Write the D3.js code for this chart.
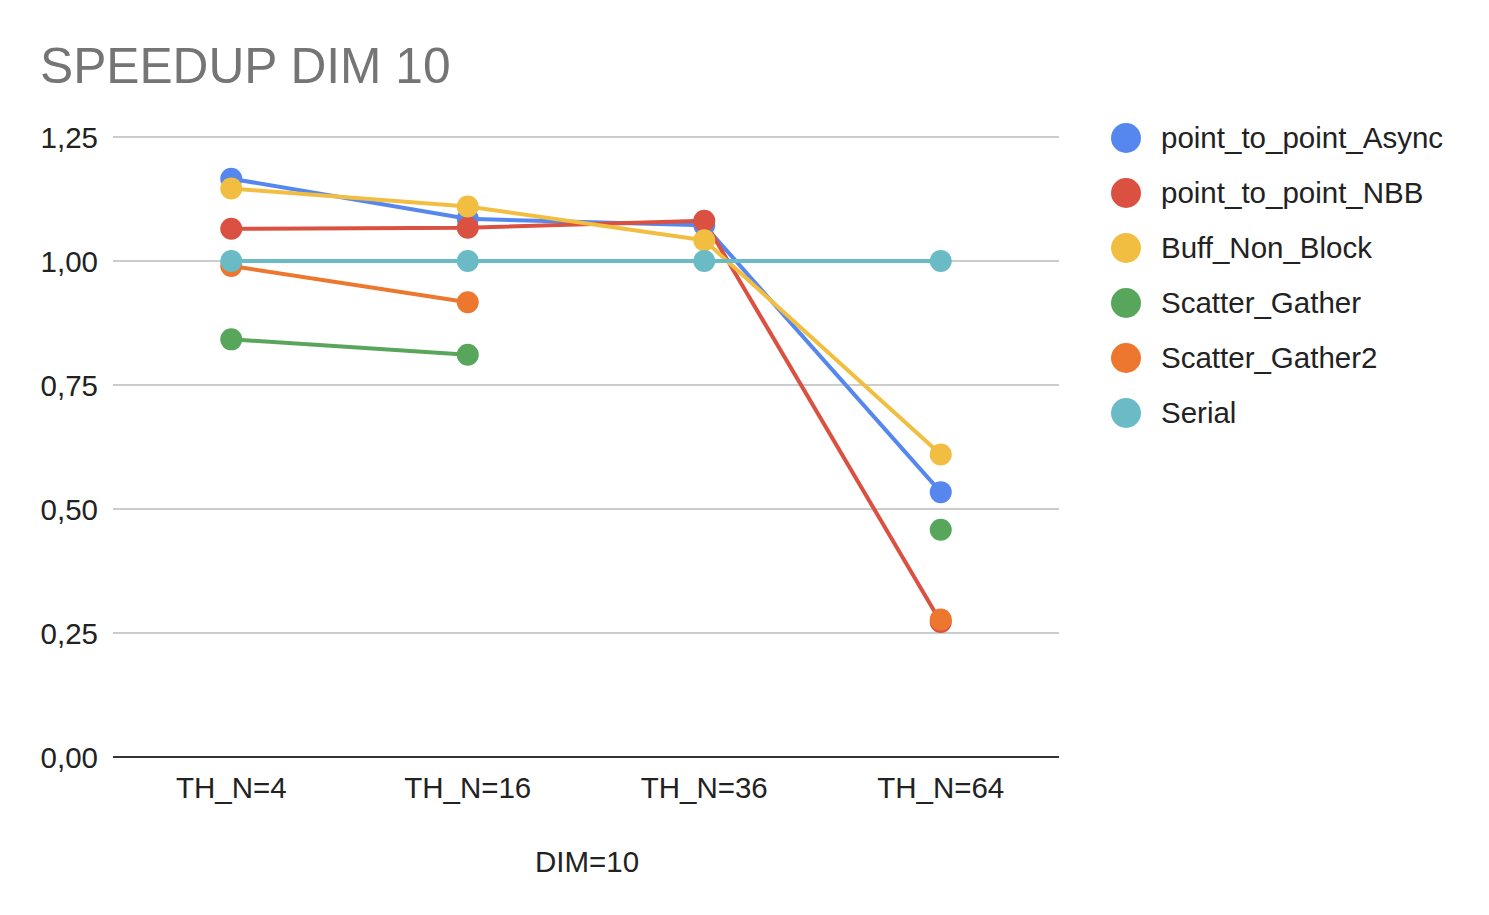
<!DOCTYPE html>
<html>
<head>
<meta charset="utf-8">
<script src="https://cdn.jsdelivr.net/npm/d3@7"></script>
<style>
  html, body { margin: 0; padding: 0; background: #ffffff; }
  svg { display: block; font-family: "Liberation Sans", Arial, Helvetica, sans-serif; }
</style>
</head>
<body>
<svg id="chart" width="1489" height="915"></svg>
<script>
const categories = ["TH_N=4", "TH_N=16", "TH_N=36", "TH_N=64"];
const seriesNames = ["point_to_point_Async", "point_to_point_NBB", "Buff_Non_Block", "Scatter_Gather", "Scatter_Gather2", "Serial"];
const asyncValues   = [1.166, 1.085, 1.072, 0.534];
const nbbValues     = [1.065, 1.067, 1.081, 0.272];
const buffValues    = [1.146, 1.110, 1.042, 0.610];
const sgValues      = [0.842, 0.811, null, 0.458];
const sg2Values     = [0.990, 0.917, null, 0.277];
const serialValues  = [1.0, 1.0, 1.0, 1.0];
const yTicks = [0, 0.25, 0.5, 0.75, 1.0, 1.25];
const colors = ["#5687EF", "#DA5141", "#F2BE42", "#58A65C", "#ED772F", "#6ABBC5"];
const chartTitle = "SPEEDUP DIM 10";
const xTitle = "DIM=10";

(function () {
const seriesValues = [asyncValues, nbbValues, buffValues, sgValues, sg2Values, serialValues];
const series = seriesNames.map((name, i) => ({
  name, color: colors[i],
  values: seriesValues[i].map((v, j) => ({cat: categories[j], v}))
}));

const svg = d3.select("#chart");
const pLeft = 113, pRight = 1059, pTop = 137, pBottom = 757;
const fs = 29.5;

const x = d3.scalePoint().domain(categories).range([pLeft, pRight]).padding(0.5);
const y = d3.scaleLinear().domain([0, 1.25]).range([pBottom, pTop]);

// title
svg.append("text").attr("x", 40).attr("y", 83)
  .attr("font-size", 49.7).attr("fill", "#757575").text(chartTitle);

// gridlines
svg.append("g").selectAll("line").data(yTicks.filter(t => t !== 0)).join("line")
  .attr("x1", pLeft).attr("x2", pRight)
  .attr("y1", d => y(d)).attr("y2", d => y(d))
  .attr("stroke", "#cccccc").attr("stroke-width", 2);

// y tick labels
const fmt = d => d.toFixed(2).replace(".", ",");
svg.append("g").selectAll("text").data(yTicks).join("text")
  .attr("x", 98).attr("y", d => y(d) + 10.5)
  .attr("text-anchor", "end").attr("font-size", fs).attr("fill", "#222")
  .text(fmt);

// baseline axis
svg.append("line").attr("x1", pLeft).attr("x2", pRight)
  .attr("y1", y(0)).attr("y2", y(0))
  .attr("stroke", "#333333").attr("stroke-width", 2);

// x tick labels
svg.append("g").selectAll("text").data(categories).join("text")
  .attr("x", d => x(d)).attr("y", 798)
  .attr("text-anchor", "middle").attr("font-size", fs).attr("fill", "#222")
  .text(d => d);

// x title
svg.append("text").attr("x", 587).attr("y", 872)
  .attr("text-anchor", "middle").attr("font-size", fs).attr("fill", "#222")
  .text(xTitle);

// lines
const line = d3.line()
  .defined(d => d.v !== null)
  .x(d => x(d.cat)).y(d => y(d.v));

svg.append("g").selectAll("path").data(series).join("path")
  .attr("d", d => line(d.values))
  .attr("fill", "none").attr("stroke", d => d.color)
  .attr("stroke-width", 4).attr("stroke-linejoin", "round");

// points
series.forEach(s => {
  svg.append("g").selectAll("circle").data(s.values.filter(p => p.v !== null)).join("circle")
    .attr("cx", p => x(p.cat)).attr("cy", p => y(p.v)).attr("r", 11)
    .attr("fill", s.color);
});

// legend
const lg = svg.append("g").selectAll("g").data(series).join("g")
  .attr("transform", (d, i) => `translate(1126, ${138 + i * 55})`);
lg.append("circle").attr("r", 15).attr("fill", d => d.color);
lg.append("text").attr("x", 35).attr("y", 10)
  .attr("font-size", fs).attr("fill", "#222").text(d => d.name);
})();
</script>
</body>
</html>
